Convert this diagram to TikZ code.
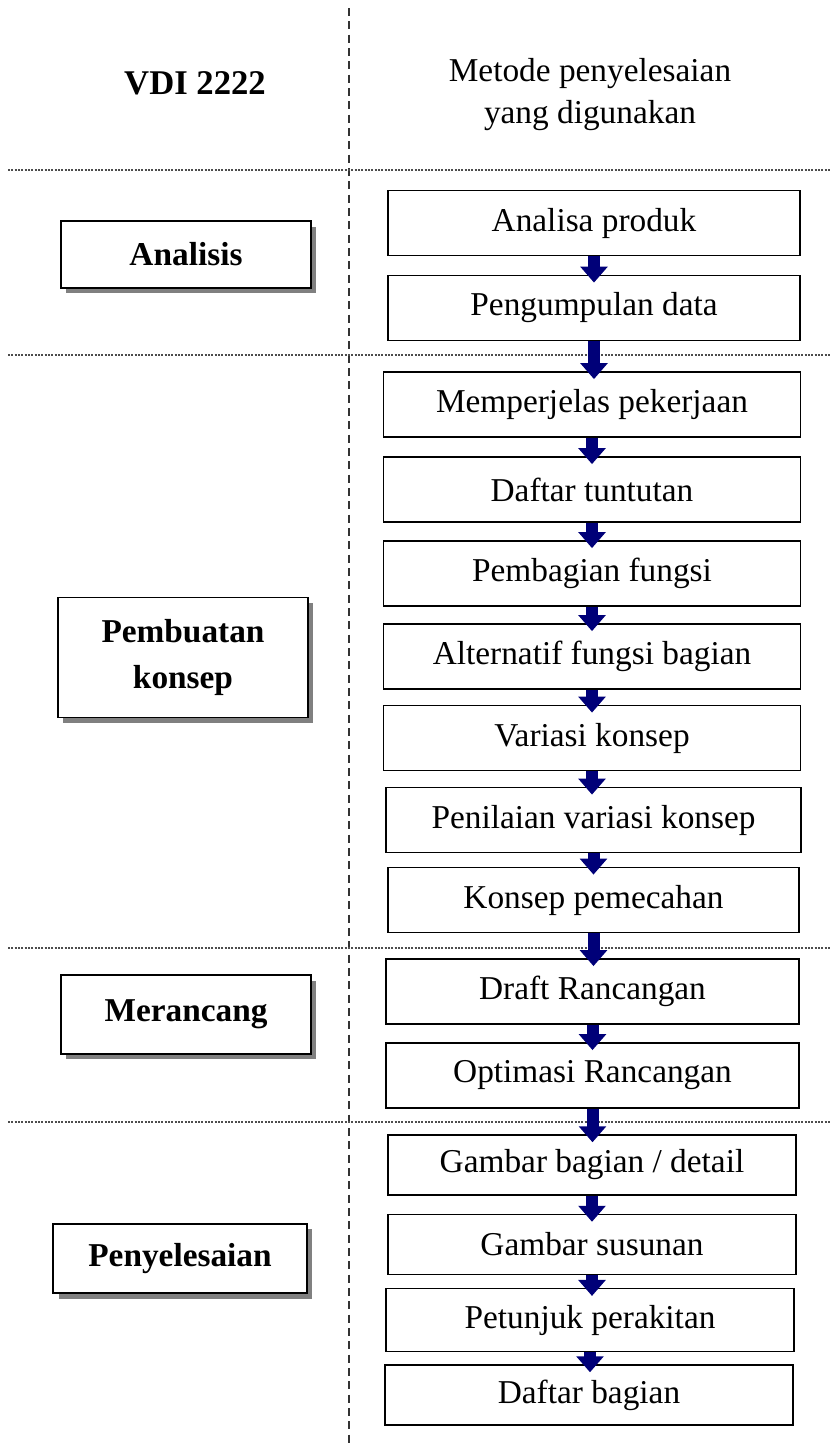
\documentclass[tikz,border=0pt]{standalone}
\usepackage{fontspec}
\setmainfont{Liberation Serif}
\usepackage{xcolor}
\usetikzlibrary{shadows,arrows.meta}

\definecolor{arrowblue}{RGB}{0,0,120}

\begin{document}
\begin{tikzpicture}[x=0.75pt, y=-0.75pt,
  stage/.style={draw, line width=1.3pt, fill=white, minimum width=187.5pt,
    align=center, font=\fontsize{25}{34}\selectfont\bfseries,
    drop shadow={shadow xshift=4pt, shadow yshift=-4pt, fill=black!50, opacity=1}},
  task/.style={draw, line width=1.1pt, fill=white, minimum width=309pt,
    minimum height=49pt, font=\fontsize{25}{30}\selectfont},
  flowarrow/.style={draw=arrowblue, line width=9pt, -{Triangle[width=20pt,length=12pt]}}]
  \useasboundingbox (0,0) rectangle (830,1450);

  % Separators
  \draw[black!80, line width=1.3pt, dash pattern=on 6pt off 4pt] (349,8) -- (349,1446);
  \foreach \y in {170,355,948,1122}
    \draw[black!70, line width=1pt, dash pattern=on 1.5pt off 1pt] (8,\y) -- (830,\y);

  % Headers
  \node[font=\fontsize{26}{30}\selectfont\bfseries] (vdi) at (195,83) {VDI 2222};
  \node[align=center, font=\fontsize{25}{31.5}\selectfont] (metode) at (590,95)
    {Metode penyelesaian\\yang digunakan};

  % VDI 2222 stages
  \node[stage, minimum height=50pt] (analisis) at (186,254.5) {Analisis};
  \node[stage, minimum height=90pt] (konsep) at (183,657.5) {Pembuatan\\konsep};
  \node[stage, minimum height=59pt] (merancang) at (186,1014.5) {Merancang};
  \node[stage, minimum height=52pt, minimum width=190pt] (selesai) at (180,1258.5) {Penyelesaian};

  % Methods used
  \node[task] (t1) at (594,223) {Analisa produk};
  \node[task] (t2) at (594,308) {Pengumpulan data};
  \node[task, minimum width=313pt] (t3) at (592,404.5) {Memperjelas pekerjaan};
  \node[task, minimum width=313pt] (t4) at (592,489.5) {Daftar tuntutan};
  \node[task, minimum width=313pt] (t5) at (592,573.5) {Pembagian fungsi};
  \node[task, minimum width=313pt] (t6) at (592,656.5) {Alternatif fungsi bagian};
  \node[task, minimum width=313pt] (t7) at (592,738) {Variasi konsep};
  \node[task, minimum width=311pt] (t8) at (593.5,820) {Penilaian variasi konsep};
  \node[task, minimum width=308pt] (t9) at (593.5,900) {Konsep pemecahan};
  \node[task, minimum width=310pt] (t10) at (592.5,991.5) {Draft Rancangan};
  \node[task, minimum width=310pt] (t11) at (592.5,1075.5) {Optimasi Rancangan};
  \node[task, minimum width=306pt, minimum height=45pt] (t12) at (592,1165) {Gambar bagian / detail};
  \node[task, minimum width=306pt, minimum height=45pt] (t13) at (592,1244.5) {Gambar susunan};
  \node[task, minimum width=306pt, minimum height=47pt] (t14) at (590,1320) {Petunjuk perakitan};
  \node[task, minimum width=306pt, minimum height=45pt] (t15) at (589,1395) {Daftar bagian};

  \foreach \i in {1,...,14} {
    \pgfmathtruncatemacro\j{\i+1}
    \draw[flowarrow] (t\i.south) -- ([yshift=-6pt]t\i.south |- t\j.north);
  }
\end{tikzpicture}
\end{document}
